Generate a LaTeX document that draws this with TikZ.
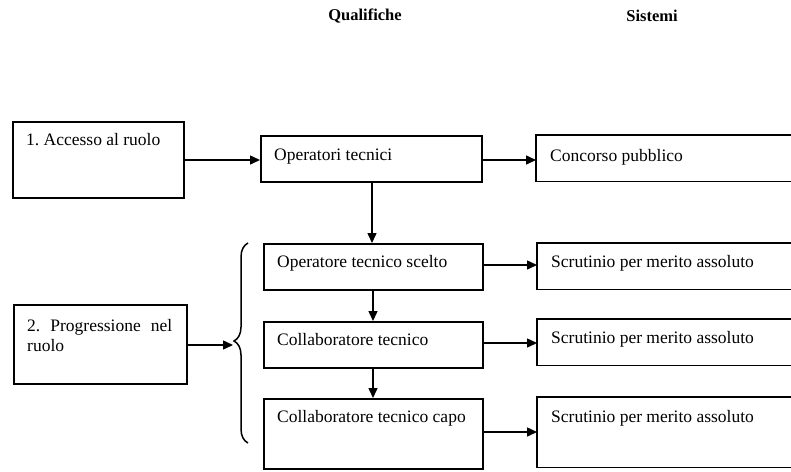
\documentclass[tikz,border=0pt]{standalone}
\usepackage{fontspec}
\setmainfont{Liberation Serif}
\usetikzlibrary{arrows.meta,decorations.pathreplacing}
\frenchspacing

\begin{document}
\begin{tikzpicture}[x=1pt,y=-1pt,
  box/.style={draw,line width=1.5pt,anchor=north west,inner sep=0pt},
  openbox/.style={anchor=north west,inner sep=0pt},
  edge/.style={line width=1.5pt},
  txt/.style={anchor=north west,inner sep=0pt,xshift=14pt,yshift=-12pt,
              font=\fontsize{17.5}{20}\selectfont,align=left},
  head/.style={font=\fontsize{16.5}{18}\selectfont\bfseries},
  arr/.style={line width=1.5pt,-{Triangle[length=10pt,width=9pt]}},
]
\path[use as bounding box] (0,0) rectangle (791,471);
\clip (0,0) rectangle (791,471);

% column headings
\node[head] (hq) at (365,16) {Qualifiche};
\node[head] (hs) at (652,16) {Sistemi};

% left column
\node[box,minimum width=171pt,minimum height=76pt,
      label={[txt]north west:1. Accesso al ruolo}] (acc) at (12,121) {};
\node[box,minimum width=173pt,minimum height=79pt,
      label={[txt,text width=145pt,align=justify,yshift=-3pt]north west:2. Progressione nel ruolo}] (prog) at (13,304) {};

% qualifications
\node[box,minimum width=221pt,minimum height=46pt,
      label={[txt,yshift=-2pt]north west:Operatori tecnici}] (op) at (260,135) {};
\node[box,minimum width=219pt,minimum height=46pt,
      label={[txt]north west:Operatore tecnico scelto}] (ops) at (263,243) {};
\node[box,minimum width=219pt,minimum height=46pt,
      label={[txt]north west:Collaboratore tecnico}] (col) at (263,321) {};
\node[box,minimum width=219pt,minimum height=70pt,
      label={[txt]north west:Collaboratore tecnico capo}] (colc) at (263,398) {};

% systems: these boxes run on past the right margin, so no right side
\node[openbox,minimum width=270pt,minimum height=46pt,
      label={[txt,yshift=-2pt]north west:Concorso pubblico}] (conc) at (536,135) {};
\node[openbox,minimum width=270pt,minimum height=46pt,
      label={[txt]north west:Scrutinio per merito assoluto}] (s1) at (537,243) {};
\node[openbox,minimum width=270pt,minimum height=46pt,
      label={[txt]north west:Scrutinio per merito assoluto}] (s2) at (537,319) {};
\node[openbox,minimum width=270pt,minimum height=70pt,
      label={[txt,yshift=-1pt]north west:Scrutinio per merito assoluto}] (s3) at (537,397) {};
\foreach \n in {conc,s1,s2,s3}
  \draw[edge] (\n.north east) -- (\n.north west) -- (\n.south west) -- (\n.south east);

% brace grouping the career progression
\draw[edge,decorate,decoration={brace,amplitude=14pt,aspect=0.51}]
  (248,443) -- (248,243);
\coordinate (tip) at (233,345);

% connectors
\draw[arr] (acc.east |- 0,160) -- (op.west |- 0,160);
\draw[arr] (op.east |- 0,160) -- (conc.west |- 0,160);
\draw[arr] (op.south -| 372,0) -- (ops.north -| 372,0);
\draw[arr] (ops.south -| 373,0) -- (col.north -| 373,0);
\draw[arr] (col.south -| 373,0) -- (colc.north -| 373,0);
\draw[arr] (ops.east |- 0,265) -- (s1.west |- 0,265);
\draw[arr] (col.east |- 0,343) -- (s2.west |- 0,343);
\draw[arr] (colc.east |- 0,432) -- (s3.west |- 0,432);
\draw[arr] (prog.east |- tip) -- (tip);
\end{tikzpicture}
\end{document}
